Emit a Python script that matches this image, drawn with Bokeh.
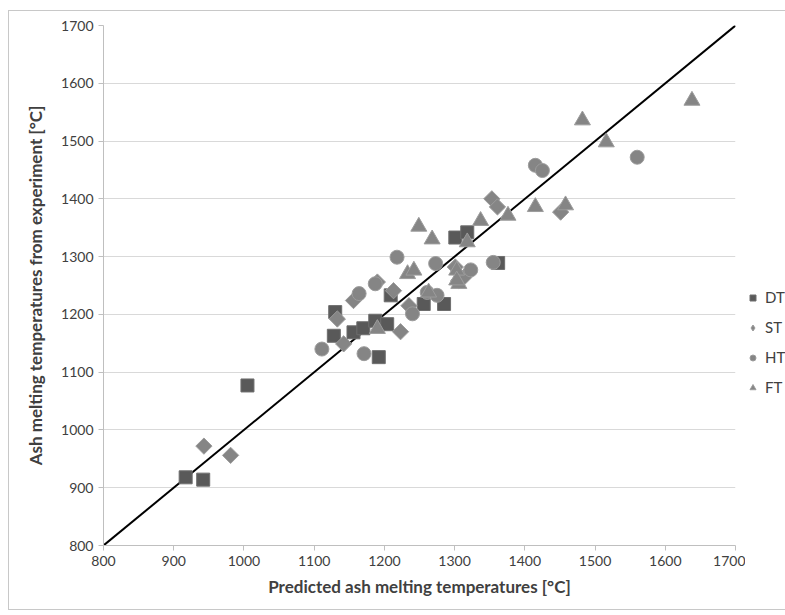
import math
from bokeh.plotting import figure
from bokeh.layouts import row, column
from bokeh.models import Legend, LegendItem, FixedTicker, Range1d, Spacer
from bokeh.embed import file_html
from bokeh.resources import INLINE

# Data (predicted, experiment)
dt_x = [917, 942, 1005, 1130, 1128, 1156, 1170, 1187, 1192, 1204, 1209, 1256, 1285, 1301, 1318, 1362]
dt_y = [918, 914, 1077, 1204, 1163, 1169, 1176, 1189, 1126, 1183, 1233, 1218, 1218, 1333, 1342, 1289]

st_x = [943, 981, 1133, 1142, 1156, 1190, 1213, 1223, 1235, 1301, 1306, 1313, 1353, 1361, 1451]
st_y = [972, 956, 1192, 1149, 1224, 1256, 1241, 1170, 1215, 1282, 1259, 1264, 1400, 1386, 1377]

ht_x = [1111, 1171, 1164, 1187, 1218, 1240, 1261, 1275, 1273, 1323, 1355, 1415, 1425, 1560]
ht_y = [1140, 1132, 1236, 1253, 1299, 1201, 1238, 1233, 1288, 1277, 1290, 1458, 1449, 1472]

ft_x = [1190, 1233, 1242, 1249, 1263, 1268, 1303, 1306, 1303, 1318, 1337, 1376, 1415, 1458, 1482, 1516, 1638]
ft_y = [1175, 1270, 1276, 1352, 1238, 1330, 1276, 1253, 1259, 1325, 1362, 1371, 1386, 1389, 1536, 1498, 1570]

ref_x = [800, 1700]
ref_y = [800, 1700]

ticks = [800, 900, 1000, 1100, 1200, 1300, 1400, 1500, 1600, 1700]
series_names = ["DT", "ST", "HT", "FT"]

FONT = "Lato"

styles = {
    "DT": dict(marker="square", size=13, fill_color="#595959", line_color="#6e6e6e"),
    "ST": dict(marker="square", size=11.5, angle=math.pi / 4, fill_color="#858585", line_color="#9c9c9c"),
    "HT": dict(marker="circle", size=14, fill_color="#858585", line_color="#9c9c9c"),
    "FT": dict(marker="triangle", size=16, fill_color="#858585", line_color="#9c9c9c"),
}
legend_styles = dict(styles)
legend_styles["ST"] = dict(marker="diamond", size=16, fill_color="#858585", line_color="#9c9c9c")

p = figure(width=736, height=598, output_backend="svg", toolbar_location=None,
           x_range=Range1d(800, 1700), y_range=Range1d(800, 1700),
           min_border_left=94, min_border_right=10, min_border_top=14, min_border_bottom=64)
p.outline_line_color = None
p.background_fill_color = "white"
p.border_fill_color = "white"

p.xgrid.grid_line_color = None
p.ygrid.grid_line_color = "#d9d9d9"
p.ygrid.grid_line_width = 1

for ax in (p.xaxis[0], p.yaxis[0]):
    ax.ticker = FixedTicker(ticks=ticks)
    ax.axis_line_color = "#bfbfbf"
    ax.major_tick_line_color = "#bfbfbf"
    ax.major_tick_out = 5
    ax.major_tick_in = 0
    ax.minor_tick_line_color = None
    ax.major_label_text_font = FONT
    ax.major_label_text_font_size = "14px"
    ax.major_label_text_color = "#404040"
    ax.axis_label_text_font = FONT
    ax.axis_label_text_font_size = "17px"
    ax.axis_label_text_font_style = "bold"
    ax.axis_label_text_color = "#404040"

p.xaxis.axis_label = "Predicted ash melting temperatures [°C]"
p.yaxis.axis_label = "Ash melting temperatures from experiment [°C]"
p.xaxis.axis_label_standoff = 7
p.yaxis.axis_label_standoff = 12

p.line(ref_x, ref_y, line_color="black", line_width=2)

data = {"DT": (dt_x, dt_y), "ST": (st_x, st_y), "HT": (ht_x, ht_y), "FT": (ft_x, ft_y)}
for n in series_names:
    p.scatter(data[n][0], data[n][1], **styles[n])

# Legend panel on the right (its renderers hold one point each, outside the visible range)
lp = figure(width=40, height=140, output_backend="svg", toolbar_location=None,
            x_range=Range1d(0, 1), y_range=Range1d(0, 1),
            x_axis_type=None, y_axis_type=None, min_border=0)
lp.outline_line_color = None
lp.xgrid.grid_line_color = None
lp.ygrid.grid_line_color = None
lp.border_fill_color = "white"
lp.background_fill_color = "white"

items = []
for n in series_names:
    r = lp.scatter(data[n][0][:1], data[n][1][:1], **legend_styles[n])
    items.append(LegendItem(label=n, renderers=[r]))

legend = Legend(items=items, location="top_left", orientation="vertical")
legend.border_line_color = None
legend.background_fill_alpha = 0
legend.label_text_font = FONT
legend.label_text_font_size = "15px"
legend.label_text_color = "#404040"
legend.glyph_width = 15
legend.glyph_height = 15
legend.spacing = 12
legend.padding = 0
legend.margin = 0
legend.label_standoff = 5
lp.add_layout(legend, "center")

side = column(Spacer(width=40, height=277), lp)
layout = row(p, side, styles={"border": "1px solid #c8c8c8", "margin-left": "8px", "margin-top": "10px"})

open("out.html", "w").write(file_html(layout, INLINE))
